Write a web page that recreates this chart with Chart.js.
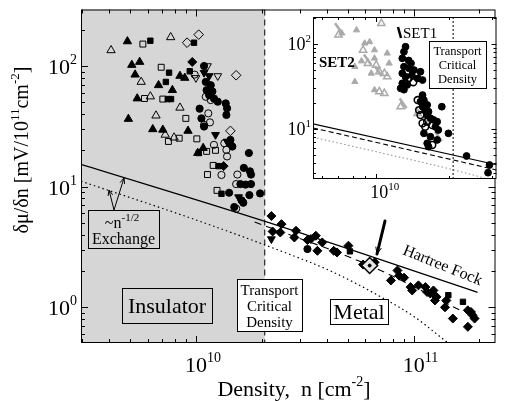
<!DOCTYPE html>
<html>
<head>
<meta charset="utf-8">
<script src="https://cdn.jsdelivr.net/npm/chart.js@4.4.1/dist/chart.umd.min.js"></script>
<style>
  html, body { margin: 0; padding: 0; background: #fff; }
  #wrap { position: relative; width: 505px; height: 401px; }
  #mainChart { position: absolute; left: 0; top: 0; }
  #insetChart { position: absolute; left: 280px; top: 0; }
</style>
</head>
<body>
<div id="wrap">
  <canvas id="mainChart" width="505" height="401"></canvas>
  <canvas id="insetChart" width="225" height="201"></canvas>
</div>
<script>
// density in units of 1e10 cm^-2, dmu/dn in mV/(1e11 cm^-2)
const filledTriangles = [[0.485,160],[0.508,102],[0.552,108],[0.526,84.8],[0.674,69.3],[0.780,63.1],[0.538,53.8],[0.845,82.7],[0.889,79.7],[0.490,36.4],[0.634,29.9],[0.705,29.6],[0.920,29.0],[1.08,20.9],[1.02,19.0]];
const openTriangles = [[0.408,135],[0.766,173],[0.561,73.8],[0.618,55.9],[0.845,45.1],[0.656,38.8],[0.723,26.9],[0.794,25.5]];
const openSquares = [[0.571,152],[0.693,97.6],[0.581,53.8],[0.705,53.2],[0.899,36.8],[0.748,23.7],[0.838,25.2],[1.01,24.9],[1.12,19.6],[1.23,20.0],[1.13,12.6],[1.25,9.31],[1.20,15.0]];
const filledSquares = [[0.618,162],[0.980,156],[0.753,88.1],[0.728,73.8],[0.743,53.2],[0.769,53.2],[0.937,90.4],[1.03,19.0],[1.31,8.73],[1.27,14.8],[5.09,2.91],[14.4,1.26],[16.8,1.11]];
const openDiamonds = [[0.911,156],[1.03,182],[1.53,83.8],[1.44,29.0]];
const filledDiamonds = [[0.962,108],[1.34,14.8],[2.22,5.71],[2.25,4.25],[2.47,4.89],[2.44,4.17],[2.88,4.31],[2.83,3.79],[3.25,3.61],[3.37,3.68],[3.55,3.92],[3.80,3.45],[3.61,2.94],[4.29,2.94],[4.44,2.85],[5.01,3.24],[5.85,2.26],[6.61,2.36],[7.85,1.67],[8.41,2.02],[8.56,1.83],[9.02,1.76],[9.66,1.47],[9.83,1.38],[10.5,1.52],[11.3,1.47],[11.5,1.34],[11.9,1.30],[12.3,1.38],[12.5,1.14],[12.7,1.22],[14.1,1.14],[13.9,1.00],[15.1,0.807],[17.7,0.944],[18.3,0.914],[18.6,0.859],[19.0,0.807],[17.7,0.689]];
const filledDownTriangles = [[1.09,88.1],[1.15,82.7],[1.23,26.9],[1.39,23.7],[1.57,8.20],[2.22,3.68]];
const openDownTriangles = [[1.00,79.7],[1.13,100],[1.26,82.7]];
const filledCircles = [[1.09,100],[1.11,73.8],[1.17,69.3],[1.12,63.1],[1.19,61.6],[1.15,57.4],[1.21,53.8],[1.26,50.6],[1.37,49.0],[1.39,44.6],[1.38,39.3],[1.04,44.3],[1.06,36.8],[1.09,31.5],[1.47,21.5],[1.43,22.9],[1.44,24.4],[1.75,19.0],[1.66,14.3],[1.77,13.4],[1.79,12.6],[1.69,10.4],[1.79,10.5],[1.60,10.5],[1.42,8.90],[1.76,8.51],[1.97,8.79],[1.62,7.70],[1.65,7.36],[1.50,6.78],[3.25,3.04]];
const openCircles = [[0.987,84.8],[1.11,55.6],[1.17,52.2],[1.14,40.5],[1.16,34.1],[1.09,32.5],[1.21,22.2],[1.35,22.9],[1.38,20.2],[1.39,17.8],[1.31,12.5],[1.55,12.6],[1.53,10.5],[1.53,6.57]];
const highlighted = [[6.27,2.22]];

// curves
const hartreeFockN = [0.297, 2.11, 19.6];
const hartreeFockV = [15.3, 5.10, 1.33];
const fitN = [1.86, 6.27, 16.3];
const fitV = [5.1, 2.22, 0.945];
const exchangeN = [0.297, 1.0, 2.37, 4.2, 7.0, 10, 12.9, 15.1];
const exchangeV = [11.1, 5.3, 3.0, 1.98, 1.23, 0.84, 0.59, 0.47];
const criticalDensity = [2.07];

// inset: SET1 / SET2
const set1Filled = [[1.32,92.9],[1.30,81.1],[1.28,67.9],[1.36,64],[1.39,59.3],[1.30,54.1],[1.36,52],[1.43,49.4],[1.52,47.2],[1.28,45.2],[1.32,41.2],[1.40,43],[1.48,39.4],[1.55,37.7],[1.28,34.5],[1.34,33.0],[1.26,30.1],[1.30,29],[1.55,25.1],[1.57,21.9],[1.52,21.0],[1.62,19.2],[1.55,18.3],[1.59,16.7],[1.64,16.0],[1.62,14.6],[1.67,13.4],[1.72,12.8],[1.78,12.2],[1.86,18.3],[1.75,10.6],[1.80,9.73],[1.57,8.89],[1.67,8.11],[1.62,6.79],[1.64,6.20],[1.98,8.89],[1.78,7.43],[2.35,4.81],[2.92,3.77],[2.88,3.06]];
const set1Open = [[1.34,47.2],[1.36,39.4],[1.32,34.5],[1.42,35.5],[1.48,21.9],[1.50,16.7],[1.52,14.6],[1.62,12.2],[1.70,11.1],[1.59,10.6],[1.55,11.7],[1.70,6.49]];
const set2Filled = [[0.722,134],[0.830,146],[0.897,102],[0.940,106],[0.984,85],[0.984,67.9],[1.11,77.8],[0.817,54.1],[1.13,59.3],[0.954,45.2],[0.817,36.0],[0.984,28.8],[0.87,63]];
const set2Open = [[1.05,175],[0.700,128],[0.883,85],[1.0,56.6],[0.925,59.3],[1.03,47.2],[1.08,45.2],[1.11,41.2],[1.03,27.5],[1.08,26.3],[1.26,18.3],[1.48,15.3]];
const set2Slashes = [[0.70,154],[0.92,66],[1.02,48],[1.29,20],[1.60,12.5],[1.80,8.2]];
const insetSolidN = [0.55, 3.12], insetSolidV = [11.5, 3.8];
const insetDashN = [0.55, 3.12], insetDashV = [10.3, 3.3];
const insetDotN = [0.55, 1.0, 2.0, 2.85], insetDotV = [8.0, 5.4, 3.4, 2.6];

const FONT = '"Liberation Serif", "Times New Roman", serif';
const GREY = '#d6d6d6';

function pts(arr) { return arr.map(p => ({ x: p[0] * 1e10, y: p[1] })); }
function curve(ns, vs) { return ns.map((n, i) => ({ x: n * 1e10, y: vs[i] })); }

function marker(data, style, filled, radius, extra) {
  return Object.assign({
    type: 'scatter', data: pts(data), pointStyle: style, pointRadius: radius,
    borderColor: '#000', borderWidth: 1,
    backgroundColor: filled ? '#000' : 'rgba(0,0,0,0)'
  }, extra || {});
}
function lineSet(data, dash, color, width) {
  return { type: 'line', data: data, showLine: true, pointRadius: 0, borderColor: color,
    borderWidth: width, borderDash: dash, fill: false, cubicInterpolationMode: 'monotone' };
}

// draws a string made of pieces [text, size, raise, weight]
function supText(ctx, pieces, x, y, align) {
  let total = 0;
  pieces.forEach(p => { ctx.font = (p[3] || '') + ' ' + p[1] + 'px ' + FONT; total += ctx.measureText(p[0]).width; });
  let cx = align === 'right' ? x - total : align === 'center' ? x - total / 2 : x;
  ctx.textAlign = 'left';
  ctx.textBaseline = 'alphabetic';
  pieces.forEach(p => {
    ctx.font = (p[3] || '') + ' ' + p[1] + 'px ' + FONT;
    ctx.fillText(p[0], cx, y - p[2]);
    cx += ctx.measureText(p[0]).width;
  });
}

function arrow(ctx, x0, y0, x1, y1, head, width) {
  const a = Math.atan2(y1 - y0, x1 - x0);
  ctx.lineWidth = width;
  ctx.beginPath(); ctx.moveTo(x0, y0); ctx.lineTo(x1, y1); ctx.stroke();
  ctx.beginPath();
  ctx.moveTo(x1, y1);
  ctx.lineTo(x1 - head * Math.cos(a - 0.4), y1 - head * Math.sin(a - 0.4));
  ctx.moveTo(x1, y1);
  ctx.lineTo(x1 - head * Math.cos(a + 0.4), y1 - head * Math.sin(a + 0.4));
  ctx.lineWidth = 1;
  ctx.stroke();
}

function box(ctx, x0, y0, x1, y1, fill) {
  if (fill) { ctx.fillStyle = fill; ctx.fillRect(x0, y0, x1 - x0, y1 - y0); }
  ctx.strokeStyle = '#000'; ctx.lineWidth = 1;
  ctx.strokeRect(x0 + 0.5, y0 + 0.5, x1 - x0, y1 - y0);
  ctx.fillStyle = '#000';
}

// frame with inward log ticks on all four sides
function frameTicks(chart, major, minor) {
  const { ctx, chartArea: a, scales: { x, y } } = chart;
  ctx.save();
  ctx.strokeStyle = '#000';
  ctx.lineWidth = 1;
  ctx.strokeRect(a.left + 0.5, a.top + 0.5, a.right - a.left - 1, a.bottom - a.top - 1);
  ctx.beginPath();
  for (let k = 8; k <= 12; k++) for (let m = 1; m <= 9; m++) {
    const v = m * Math.pow(10, k);
    if (v <= x.min || v >= x.max) continue;
    const px = Math.round(x.getPixelForValue(v)) + 0.5;
    const len = m === 1 ? major : minor;
    ctx.moveTo(px, a.bottom); ctx.lineTo(px, a.bottom - len);
    ctx.moveTo(px, a.top); ctx.lineTo(px, a.top + len);
  }
  for (let k = -2; k <= 3; k++) for (let m = 1; m <= 9; m++) {
    const v = m * Math.pow(10, k);
    if (v <= y.min || v >= y.max) continue;
    const py = Math.round(y.getPixelForValue(v)) + 0.5;
    const len = m === 1 ? major : minor;
    ctx.moveTo(a.left, py); ctx.lineTo(a.left + len, py);
    ctx.moveTo(a.right, py); ctx.lineTo(a.right - len, py);
  }
  ctx.stroke();
  ctx.restore();
}

const mainPlugin = {
  id: 'mainDecor',
  beforeDatasetsDraw(chart) {
    const { ctx, chartArea: a, scales: { x } } = chart;
    const xc = x.getPixelForValue(criticalDensity[0] * 1e10);
    ctx.save();
    ctx.fillStyle = GREY;
    ctx.fillRect(a.left, a.top, xc - a.left, a.bottom - a.top);
    ctx.strokeStyle = '#000';
    ctx.lineWidth = 1;
    ctx.setLineDash([6, 4]);
    ctx.beginPath(); ctx.moveTo(xc, a.top); ctx.lineTo(xc, a.bottom); ctx.stroke();
    ctx.restore();
  },
  afterDatasetsDraw(chart) {
    const ctx = chart.ctx;
    ctx.save();
    ctx.fillStyle = '#000';
    ctx.strokeStyle = '#000';

    // exchange label with its two arrows
    box(ctx, 88, 210, 159, 248, null);
    supText(ctx, [['~n', 16, 0], ['-1/2', 11, 7]], 122, 228, 'center');
    supText(ctx, [['Exchange', 16, 0]], 123.5, 244, 'center');
    arrow(ctx, 114, 210, 124, 178, 6, 1);
    arrow(ctx, 114, 210, 109, 190, 6, 1);

    box(ctx, 122, 288, 212, 323, null);
    supText(ctx, [['Insulator', 22, 0]], 167, 313, 'center');

    box(ctx, 237, 279, 302, 331, '#fff');
    supText(ctx, [['Transport', 15, 0]], 269.5, 295, 'center');
    supText(ctx, [['Critical', 15, 0]], 269.5, 311, 'center');
    supText(ctx, [['Density', 15, 0]], 269.5, 327, 'center');

    box(ctx, 330, 299, 388, 324, '#fff');
    supText(ctx, [['Metal', 22, 0]], 359, 319, 'center');

    // Hartree Fock label along the solid curve
    ctx.save();
    ctx.translate(402, 254);
    ctx.rotate(22 * Math.PI / 180);
    supText(ctx, [['Hartree Fock', 16, 0]], 0, 0, 'left');
    ctx.restore();

    // thick pointer to the marked point
    ctx.lineCap = 'round';
    arrow(ctx, 385, 221, 377, 254, 7, 3);
    ctx.restore();
  },
  afterDraw(chart) {
    const { ctx, scales: { x, y } } = chart;
    frameTicks(chart, 7, 4);
    ctx.save();
    ctx.fillStyle = '#000';
    [0, 1, 2].forEach(k => {
      const py = y.getPixelForValue(Math.pow(10, k));
      supText(ctx, [['10', 22, 0], [String(k), 14, 10]], 77, py + 8, 'right');
    });
    [10, 11].forEach(k => {
      const px = x.getPixelForValue(Math.pow(10, k));
      ctx.font = '22px ' + FONT;
      const w = ctx.measureText('10').width;
      supText(ctx, [['10', 22, 0], [String(k), 14, 10]], px - w / 2, 372, 'left');
    });
    supText(ctx, [['Density,  n [cm', 22, 0], ['-2', 14, 10], [']', 22, 0]], 294, 396, 'center');
    ctx.save();
    ctx.translate(28, 150);
    ctx.rotate(-Math.PI / 2);
    supText(ctx, [['δμ/δn [mV/10', 20, 0], ['11', 13, 9], ['cm', 20, 0], ['-2', 13, 9], [']', 20, 0]], 0, 0, 'center');
    ctx.restore();
    ctx.restore();
  }
};

const mainChart = new Chart(document.getElementById('mainChart'), {
  type: 'scatter',
  data: {
    datasets: [
      marker(highlighted, 'circle', true, 1.5),
      marker(highlighted, 'rectRot', false, 8, { backgroundColor: '#e6e6e6', borderWidth: 1.5 }),
      marker(filledCircles, 'circle', true, 3.6),
      marker(openCircles, 'circle', false, 3.6),
      marker(filledDownTriangles, 'triangle', true, 4.5, { rotation: 180 }),
      marker(openDownTriangles, 'triangle', false, 4.5, { rotation: 180 }),
      marker(filledDiamonds, 'rectRot', true, 4.5),
      marker(openDiamonds, 'rectRot', false, 4.8),
      marker(filledSquares, 'rect', true, 3.8),
      marker(openSquares, 'rect', false, 4.2),
      marker(openTriangles, 'triangle', false, 4.8),
      marker(filledTriangles, 'triangle', true, 4.8),
      lineSet(curve(hartreeFockN, hartreeFockV), [], '#000', 1.3),
      lineSet(curve(fitN, fitV), [7, 5], '#000', 1.1),
      lineSet(curve(exchangeN, exchangeV), [1.5, 3], '#000', 1.2)
    ]
  },
  options: {
    responsive: false,
    animation: false,
    devicePixelRatio: 1,
    layout: { padding: { left: 81, top: 7, right: 2, bottom: 58 } },
    plugins: { legend: { display: false }, tooltip: { enabled: false } },
    scales: {
      x: { type: 'logarithmic', min: 2.97e9, max: 2.37e11, display: false },
      y: { type: 'logarithmic', min: 0.506, max: 294, display: false }
    }
  },
  plugins: [mainPlugin]
});

const insetPlugin = {
  id: 'insetDecor',
  beforeDatasetsDraw(chart) {
    const { ctx, chartArea: a, scales: { x } } = chart;
    ctx.save();
    ctx.fillStyle = '#fff';
    ctx.fillRect(a.left, a.top, a.right - a.left, a.bottom - a.top);
    const xc = x.getPixelForValue(criticalDensity[0] * 1e10);
    ctx.strokeStyle = '#000';
    ctx.lineWidth = 1;
    ctx.setLineDash([2, 2]);
    ctx.beginPath(); ctx.moveTo(xc, a.top); ctx.lineTo(xc, a.bottom); ctx.stroke();
    ctx.restore();
  },
  afterDatasetsDraw(chart) {
    const ctx = chart.ctx;
    ctx.save();
    ctx.fillStyle = '#000';
    ctx.strokeStyle = '#000';
    ctx.lineWidth = 2.5;
    ctx.beginPath(); ctx.moveTo(118, 27); ctx.lineTo(121, 38); ctx.stroke();
    supText(ctx, [['SET1', 15, 0]], 123, 38, 'left');
    supText(ctx, [['SET2', 15, 0, 'bold']], 39, 67, 'left');
    box(ctx, 149, 41, 206, 88, '#fff');
    supText(ctx, [['Transport', 12.5, 0]], 177.5, 55, 'center');
    supText(ctx, [['Critical', 12.5, 0]], 177.5, 69, 'center');
    supText(ctx, [['Density', 12.5, 0]], 177.5, 83, 'center');
    ctx.restore();
  },
  afterDraw(chart) {
    const { ctx, scales: { x, y } } = chart;
    frameTicks(chart, 5, 3);
    ctx.save();
    ctx.fillStyle = '#000';
    [1, 2].forEach(k => {
      const py = y.getPixelForValue(Math.pow(10, k));
      supText(ctx, [['10', 18, 0], [String(k), 11, 8]], 31, py + 6, 'right');
    });
    const px = x.getPixelForValue(1e10);
    ctx.font = '18px ' + FONT;
    const w = ctx.measureText('10').width;
    supText(ctx, [['10', 18, 0], ['10', 11, 8]], px - w / 2 + 3, 198, 'left');
    ctx.restore();
  }
};

const insetChart = new Chart(document.getElementById('insetChart'), {
  type: 'scatter',
  data: {
    datasets: [
      marker(set1Filled, 'circle', true, 3.4),
      marker(set1Open, 'circle', false, 3.4, { borderWidth: 1.6 }),
      marker(set2Slashes, 'line', false, 6, { rotation: 55, borderColor: '#aaa', borderWidth: 2.5 }),
      marker(set2Open, 'triangle', false, 4.2, { borderColor: '#aaa', borderWidth: 1.5 }),
      marker(set2Filled, 'triangle', true, 3.6, { borderColor: '#aaa', backgroundColor: '#aaa' }),
      lineSet(curve(insetSolidN, insetSolidV), [], '#000', 1.1),
      lineSet(curve(insetDashN, insetDashV), [5, 3], '#000', 1.1),
      lineSet(curve(insetDotN, insetDotV), [1.5, 2.5], '#888', 1)
    ]
  },
  options: {
    responsive: false,
    animation: false,
    devicePixelRatio: 1,
    layout: { padding: { left: 33, top: 17, right: 8, bottom: 22 } },
    plugins: { legend: { display: false }, tooltip: { enabled: false } },
    scales: {
      x: { type: 'logarithmic', min: 5.5e9, max: 3.12e10, display: false },
      y: { type: 'logarithmic', min: 2.58, max: 208, display: false }
    }
  },
  plugins: [insetPlugin]
});
</script>
</body>
</html>
